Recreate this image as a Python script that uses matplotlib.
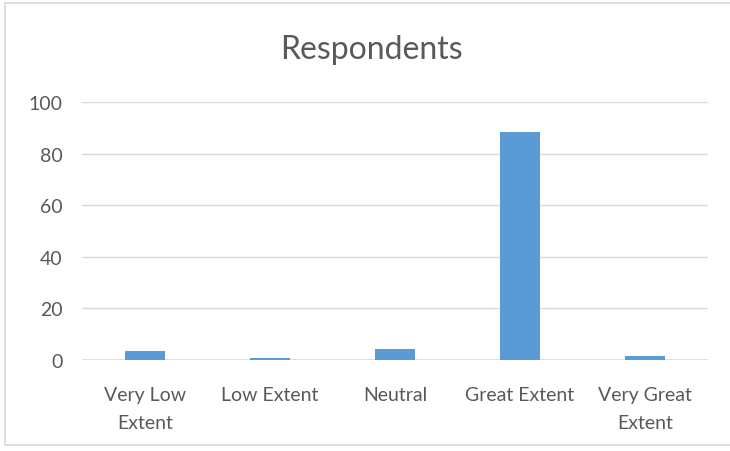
import matplotlib
matplotlib.use("Agg")
import matplotlib.pyplot as plt
from matplotlib.patches import Rectangle

# survey answers: share of respondents per level
categories = ["Very Low\nExtent", "Low Extent", "Neutral", "Great Extent", "Very Great\nExtent"]
respondents = [3.4, 0.6, 4.4, 88.3, 1.6]
y_ticks = [0, 20, 40, 60, 80, 100]

plt.rcParams['font.family'] = ['Lato', 'DejaVu Sans']
grey = "#595959"

fig = plt.figure(figsize=(7.3, 4.52), dpi=100)
ax = fig.add_axes([0.113, 0.2013, 0.8562, 0.5708])

x = range(len(categories))
ax.bar(x, respondents, width=0.32, color="#5b9bd5", zorder=3)

ax.set_xlim(-0.5, len(categories) - 0.5)
ax.set_ylim(0, 100)
ax.set_yticks(y_ticks)
ax.set_xticks(list(x))
ax.set_xticklabels(categories, linespacing=1.78)
ax.yaxis.grid(True, color="#d9d9d9", linewidth=1.0, zorder=0)
for s in ax.spines.values():
    s.set_visible(False)
ax.axhline(0, color="#d9d9d9", linewidth=1.2, zorder=2)
ax.tick_params(axis="both", length=0, colors=grey, labelsize=14)
ax.tick_params(axis="x", pad=19)
ax.tick_params(axis="y", pad=14.5)

fig.text(0.509, 0.869, "Respondents", ha="center", va="baseline", fontsize=23, color=grey)

# light frame around the chart area
fig.patches.append(Rectangle((5 / 730, 1 - 446 / 452), 1.0, (446 - 4) / 452,
                             transform=fig.transFigure, fill=False,
                             edgecolor="#d9d9d9", linewidth=1.2))

fig.savefig("out.png", dpi=100, facecolor="white")
